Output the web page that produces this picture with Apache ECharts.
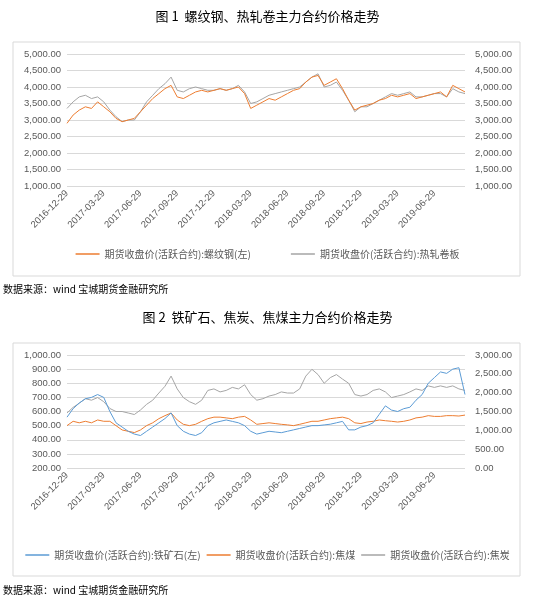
<!DOCTYPE html>
<html><head><meta charset="utf-8">
<script src="https://cdn.jsdelivr.net/npm/echarts@6/dist/echarts.min.js"></script>
<style>html,body{margin:0;padding:0;background:#fff}#c{width:535px;height:600px}</style>
</head><body><div id="c"></div>
<script>
const dates=['2016-12-29',
'2017-01-14','2017-01-29','2017-02-14','2017-02-28','2017-03-14','2017-03-29','2017-04-14','2017-04-29','2017-05-14','2017-05-29','2017-06-14','2017-06-29',
'2017-07-14','2017-07-29','2017-08-14','2017-08-29','2017-09-14','2017-09-29','2017-10-14','2017-10-29','2017-11-14','2017-11-29','2017-12-14','2017-12-29',
'2018-01-14','2018-01-29','2018-02-14','2018-02-28','2018-03-14','2018-03-29','2018-04-14','2018-04-29','2018-05-14','2018-05-29','2018-06-14','2018-06-29',
'2018-07-14','2018-07-29','2018-08-14','2018-08-29','2018-09-14','2018-09-29','2018-10-14','2018-10-29','2018-11-14','2018-11-29','2018-12-14','2018-12-29',
'2019-01-14','2019-01-29','2019-02-14','2019-02-28','2019-03-14','2019-03-29','2019-04-14','2019-04-29','2019-05-14','2019-05-29','2019-06-14','2019-06-29',
'2019-07-14','2019-07-29','2019-08-14','2019-08-29','2019-09-14'];
const rebar=[2900,3150,3300,3400,3350,3550,3400,3250,3050,2950,3000,3050,3250,3450,3650,3800,3950,4050,3700,3650,3750,3850,3900,3850,3900,3950,3900,3950,4000,3800,3350,3450,3550,3650,3600,3700,3800,3900,3950,4150,4300,4350,4050,4150,4250,3950,3600,3300,3400,3450,3500,3600,3650,3750,3700,3750,3800,3650,3700,3750,3800,3850,3700,4050,3950,3850];
const hotCoil=[3350,3550,3700,3750,3650,3700,3550,3300,3100,2950,3000,3000,3250,3550,3750,3950,4100,4300,3900,3850,3950,4000,3950,3900,3900,3950,3900,3950,4050,3850,3500,3550,3650,3750,3800,3850,3900,3950,4000,4150,4300,4400,4000,4050,4150,3900,3600,3250,3400,3400,3500,3600,3700,3800,3750,3800,3850,3700,3700,3750,3800,3800,3700,3950,3850,3800];
const ironOre=[560,620,660,690,700,720,700,600,520,490,460,440,430,460,490,520,550,590,500,460,440,430,450,500,520,530,540,530,520,500,460,440,450,460,455,450,460,470,480,490,500,500,505,510,520,530,470,470,490,500,520,580,640,610,600,620,630,680,720,800,840,880,870,900,910,720];
const cokingCoal=[1125,1240,1200,1240,1200,1275,1240,1240,1125,1010,975,940,1010,1125,1200,1310,1390,1460,1275,1160,1125,1160,1240,1310,1350,1350,1330,1310,1350,1370,1275,1160,1180,1200,1180,1160,1145,1125,1160,1200,1240,1240,1275,1310,1330,1350,1310,1200,1180,1220,1240,1275,1255,1240,1220,1240,1275,1330,1350,1390,1370,1370,1390,1390,1380,1405];
const coke=[1460,1610,1720,1840,1800,1870,1760,1580,1500,1500,1460,1420,1540,1690,1800,1990,2170,2440,2100,1870,1760,1690,1800,2060,2100,2020,2060,2140,2100,2210,1950,1800,1840,1910,1950,2020,1990,1990,2100,2440,2620,2480,2250,2400,2480,2360,2250,1950,1910,1950,2060,2100,2020,1870,1910,1950,2020,2100,2060,2180,2140,2180,2140,2180,2100,2060];
const names1=['期货收盘价(活跃合约):螺纹钢(左)','期货收盘价(活跃合约):热轧卷板'];
const names2=['期货收盘价(活跃合约):铁矿石(左)','期货收盘价(活跃合约):焦煤','期货收盘价(活跃合约):焦炭'];
const C={orange:'#ED7D31',gray:'#A5A5A5',blue:'#5B9BD5'};
const fmt=v=>v.toLocaleString('en-US',{minimumFractionDigits:2,maximumFractionDigits:2});
const lab={color:'#595959',fontSize:9.5,fontFamily:'Liberation Sans'};
const font='"Noto Sans CJK SC"';
function xAx(g){return {type:'category',gridIndex:g,data:dates,boundaryGap:false,
 axisLine:{show:false},axisTick:{show:false},
 axisLabel:Object.assign({},lab,{interval:5,rotate:45,margin:6})};}
function yAx(g,min,max,iv,right){return {type:'value',gridIndex:g,min:min,max:max,interval:iv,position:right?'right':'left',
 axisLine:{show:false},axisTick:{show:false},splitLine:{show:!right,lineStyle:{color:'#D9D9D9'}},
 axisLabel:Object.assign({},lab,{formatter:fmt,margin:right?10:6})};}
function ser(name,data,x,y,color){return {type:'line',name:name,data:data,xAxisIndex:x,yAxisIndex:y,showSymbol:false,
 lineStyle:{width:1,color:color},itemStyle:{color:color}};}
const chart=echarts.init(document.getElementById('c'));
chart.setOption({
 animation:false,
 textStyle:{fontFamily:font},
 graphic:[
  {type:'rect',shape:{x:13,y:42,width:507,height:234},style:{fill:'none',stroke:'#D9D9D9',lineWidth:1}},
  {type:'rect',shape:{x:13,y:343,width:507,height:233},style:{fill:'none',stroke:'#D9D9D9',lineWidth:1}},
  {type:'text',left:'center',top:10,style:{text:'图 1  螺纹钢、热轧卷主力合约价格走势',font:'13px '+font,fill:'#000'}},
  {type:'text',left:'center',top:311,style:{text:'图 2  铁矿石、焦炭、焦煤主力合约价格走势',font:'13px '+font,fill:'#000'}},
  {type:'text',left:3,top:284,style:{text:'数据来源：wind 宝城期货金融研究所',font:'10px '+font,fill:'#000'}},
  {type:'text',left:3,top:585,style:{text:'数据来源：wind 宝城期货金融研究所',font:'10px '+font,fill:'#000'}}
 ],
 grid:[{left:67,right:70,top:54,height:132},{left:67,right:70,top:355,height:113}],
 xAxis:[xAx(0),xAx(1)],
 yAxis:[yAx(0,1000,5000,500,false),yAx(0,1000,5000,500,true),yAx(1,200,1000,100,false),yAx(1,0,3000,500,true)],
 legend:[
  {data:names1,top:244,left:'center',itemGap:40,icon:'rect',itemWidth:24,itemHeight:1.5,textStyle:{color:'#595959',fontSize:10}},
  {data:names2,top:545,left:'center',itemGap:6,icon:'rect',itemWidth:24,itemHeight:1.5,textStyle:{color:'#595959',fontSize:10}}
 ],
 series:[
  ser(names1[1],hotCoil,0,1,C.gray),
  ser(names1[0],rebar,0,0,C.orange),
  ser(names2[2],coke,1,3,C.gray),
  ser(names2[1],cokingCoal,1,3,C.orange),
  ser(names2[0],ironOre,1,2,C.blue)
 ]
});
</script></body></html>
